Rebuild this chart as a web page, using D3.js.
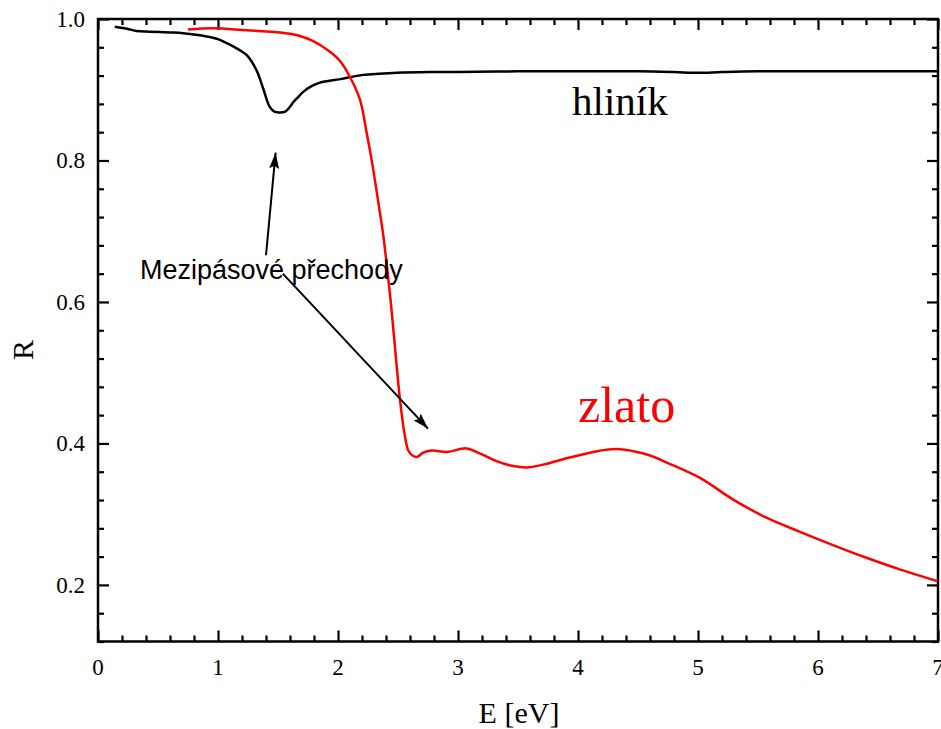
<!DOCTYPE html>
<html>
<head>
<meta charset="utf-8">
<script src="https://cdn.jsdelivr.net/npm/d3@7"></script>
<style>
  body { margin: 0; background: #fff; }
  svg { display: block; }
</style>
</head>
<body>
<svg id="chart" width="941" height="729"></svg>
<script>
// ---- data ----
const alE = [0.14, 0.25, 0.32, 0.43, 0.60, 0.71, 0.85, 0.99, 1.06, 1.13, 1.19, 1.24, 1.28, 1.32, 1.35, 1.38, 1.43, 1.47, 1.50, 1.56, 1.60, 1.63, 1.67, 1.71, 1.78, 1.85, 2.02, 2.21, 2.49, 2.77, 3.0, 3.5, 4.0, 4.5, 4.8, 5.0, 5.2, 5.5, 6.0, 6.5, 7.0];
const alR = [0.989, 0.986, 0.983, 0.982, 0.981, 0.980, 0.977, 0.972, 0.967, 0.961, 0.955, 0.949, 0.940, 0.928, 0.915, 0.900, 0.876, 0.869, 0.868, 0.869, 0.876, 0.883, 0.890, 0.897, 0.905, 0.910, 0.915, 0.921, 0.924, 0.925, 0.925, 0.926, 0.926, 0.926, 0.925, 0.924, 0.925, 0.926, 0.926, 0.926, 0.926];

const auE = [0.75, 0.96, 1.24, 1.52, 1.66, 1.79, 1.93, 2.02, 2.10, 2.183, 2.24, 2.29, 2.333, 2.375, 2.408, 2.438, 2.464, 2.489, 2.517, 2.554, 2.586, 2.62, 2.66, 2.71, 2.78, 2.91, 3.07, 3.18, 3.32, 3.46, 3.57, 3.71, 3.93, 4.16, 4.32, 4.49, 4.60, 4.74, 5.02, 5.29, 5.57, 5.85, 6.13, 6.41, 6.68, 7.0];
const auR = [0.985, 0.987, 0.984, 0.981, 0.977, 0.969, 0.954, 0.940, 0.918, 0.886, 0.838, 0.791, 0.744, 0.697, 0.650, 0.603, 0.556, 0.509, 0.461, 0.414, 0.390, 0.383, 0.381, 0.387, 0.390, 0.388, 0.393, 0.386, 0.375, 0.368, 0.366, 0.370, 0.380, 0.389, 0.392, 0.388, 0.383, 0.373, 0.351, 0.321, 0.295, 0.275, 0.256, 0.238, 0.222, 0.205];

const xMajor = [0, 1, 2, 3, 4, 5, 6, 7];
const yMajor = [0.2, 0.4, 0.6, 0.8, 1.0];
const seriesLabels = ["hliník", "zlato"];
const annotationText = "Mezipásové přechody";
const xTitle = "E [eV]";
const yTitle = "R";

// ---- layout ----
const SERIF = "'Liberation Serif', 'Times New Roman', serif";
const SANS = "'Liberation Sans', Arial, sans-serif";
const L = 98, R = 938, T = 19, B = 641.5;
const svg = d3.select("#chart");
const x = d3.scaleLinear().domain([0, 7]).range([L, R]);
const y = d3.scaleLinear().domain([0.12, 1.0]).range([B, T]);

const xMinor = d3.range(0, 7.0001, 0.2).map(v => +v.toFixed(2)).filter(v => !xMajor.some(m => Math.abs(m - v) < 1e-6));
const yMinor = d3.range(0.12, 1.0001, 0.04).map(v => +v.toFixed(2)).filter(v => !yMajor.some(m => Math.abs(m - v) < 1e-6));

function styleAxis(g) {
  g.select(".domain").remove();
  g.selectAll(".tick line").attr("stroke", "#000").attr("stroke-width", 2.2);
  g.selectAll(".tick text").remove();
}

function ticks(axisFn, scale, pos, vals, size) {
  svg.append("g").attr("transform", pos)
    .call(axisFn(scale).tickValues(vals).tickSize(size).tickFormat(""))
    .call(styleAxis);
}
ticks(d3.axisBottom, x, `translate(0,${B})`, xMajor, -11);
ticks(d3.axisBottom, x, `translate(0,${B})`, xMinor, -6);
ticks(d3.axisTop, x, `translate(0,${T})`, xMajor, -11);
ticks(d3.axisTop, x, `translate(0,${T})`, xMinor, -6);
ticks(d3.axisLeft, y, `translate(${L},0)`, yMajor, -11);
ticks(d3.axisLeft, y, `translate(${L},0)`, yMinor, -6);
ticks(d3.axisRight, y, `translate(${R},0)`, yMajor, -11);
ticks(d3.axisRight, y, `translate(${R},0)`, yMinor, -6);

// tick labels (appended directly to the svg)
const fx = d3.format("d"), fy = d3.format(".1f");
xMajor.forEach(d => {
  svg.append("text").attr("class", "xlab")
    .attr("x", x(d)).attr("y", 675).attr("text-anchor", "middle")
    .attr("style", `font-family:${SERIF};font-size:23px;fill:#000`)
    .text(fx(d));
});
yMajor.forEach(d => {
  svg.append("text").attr("class", "ylab")
    .attr("x", 85).attr("y", y(d) + 8).attr("text-anchor", "end")
    .attr("style", `font-family:${SERIF};font-size:23px;fill:#000`)
    .text(fy(d));
});

// frame
svg.append("rect").attr("x", L).attr("y", T).attr("width", R - L).attr("height", B - T)
  .attr("fill", "none").attr("stroke", "#000").attr("stroke-width", 2.5);

// lines
const line = d3.line().x(d => x(d[0])).y(d => y(d[1])).curve(d3.curveCatmullRom.alpha(0.5));
svg.append("path").datum(d3.zip(alE, alR)).attr("d", line)
  .attr("fill", "none").attr("stroke", "#000").attr("stroke-width", 2.5);
svg.append("path").datum(d3.zip(auE, auR)).attr("d", line)
  .attr("fill", "none").attr("stroke", "#ff0000").attr("stroke-width", 2.5);

// series labels
svg.append("text").attr("x", x(3.95)).attr("y", y(0.864))
  .attr("font-family", SERIF).attr("font-size", 41).attr("fill", "#000").text(seriesLabels[0]);
svg.append("text").attr("x", x(4.0)).attr("y", y(0.43))
  .attr("font-family", SERIF).attr("font-size", 50).attr("fill", "#ff0000").text(seriesLabels[1]);

// annotation
svg.append("defs").append("marker").attr("id", "arrow")
  .attr("viewBox", "0 0 16 10").attr("refX", 16).attr("refY", 5)
  .attr("markerWidth", 16).attr("markerHeight", 10).attr("markerUnits", "userSpaceOnUse")
  .attr("orient", "auto")
  .append("path").attr("d", "M0,0 L16,5 L0,10 L3,5 Z").attr("fill", "#000");

svg.append("line").attr("x1", x(1.40)).attr("y1", y(0.666)).attr("x2", x(1.48)).attr("y2", y(0.811))
  .attr("stroke", "#000").attr("stroke-width", 2).attr("marker-end", "url(#arrow)");
svg.append("line").attr("x1", x(1.54)).attr("y1", y(0.640)).attr("x2", x(2.75)).attr("y2", y(0.421))
  .attr("stroke", "#000").attr("stroke-width", 2).attr("marker-end", "url(#arrow)");
svg.append("text").attr("x", x(0.35)).attr("y", y(0.632))
  .attr("font-family", SANS).attr("font-size", 27).attr("fill", "#000")
  .text(annotationText);

// axis titles
svg.append("text").attr("x", 519).attr("y", 723).attr("text-anchor", "middle")
  .attr("font-family", SERIF).attr("font-size", 30).attr("fill", "#000").text(xTitle);
svg.append("text").attr("transform", "translate(33,350) rotate(-90)")
  .attr("text-anchor", "middle")
  .attr("font-family", SERIF).attr("font-size", 30).attr("fill", "#000").text(yTitle);
</script>
</body>
</html>
